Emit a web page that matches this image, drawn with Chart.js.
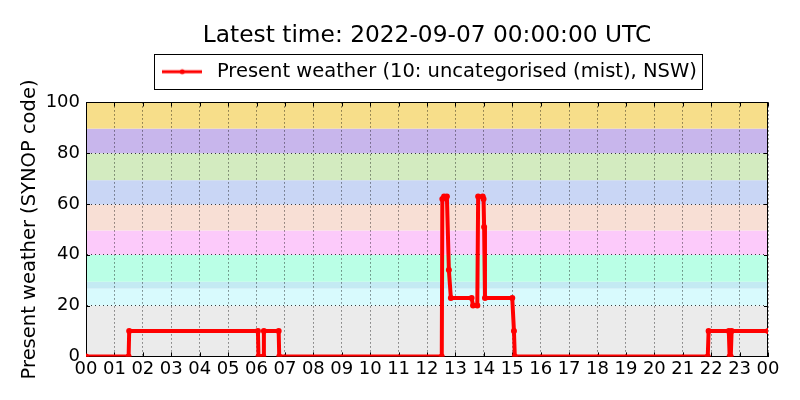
<!DOCTYPE html>
<html>
<head>
<meta charset="utf-8">
<script src="https://cdn.jsdelivr.net/npm/chart.js@4/dist/chart.umd.min.js"></script>
<style>
  html, body { margin: 0; padding: 0; background: #ffffff; }
  #wrap { width: 800px; height: 400px; }
</style>
</head>
<body>
<div id="wrap"><canvas id="c" width="800" height="400"></canvas></div>
<script>
// ---- data ----
const titleText = 'Latest time: 2022-09-07 00:00:00 UTC';
const seriesLabel = 'Present weather (10: uncategorised (mist), NSW)';
const yAxisLabel = 'Present weather (SYNOP code)';
const hours = [0, 1.50, 1.52, 6.05, 6.07, 6.24, 6.26, 6.78, 6.80,
  12.52, 12.54, 12.60, 12.70, 12.77, 12.84, 13.57, 13.62, 13.77, 13.80, 13.96, 13.99, 14.01, 14.04,
  15.00, 15.06, 15.09, 21.88, 21.91, 22.62, 22.65, 22.69, 22.72, 24];
const presentWeather = [0, 0, 10, 10, 0, 0, 10, 10, 0,
  0, 62, 63, 63, 34, 23, 23, 20, 20, 63, 63, 62, 51, 23,
  23, 10, 0, 0, 10, 10, 0, 0, 10, 10];
const xTickHours = [0,1,2,3,4,5,6,7,8,9,10,11,12,13,14,15,16,17,18,19,20,21,22,23,24];
const yTicks = [0, 20, 40, 60, 80, 100];
// background bands (SYNOP code groups)
const bandLow  = [0,    20,   26.7, 29.4, 40,   49.6, 59.8, 69.4, 80,   89.7];
const bandHigh = [20,   26.7, 29.4, 40,   49.6, 59.8, 69.4, 80,   89.7, 100];
const bandColor = ['#ebebeb', '#d8fafd', '#c4eaf3', '#baffe6', '#fccafa', '#f8dfd5', '#c9d6f5', '#d3ebc0', '#c8b6ec', '#f7de8a'];

const FONT = 'DejaVu Sans';

// legend symbol: line with a dot
const sym = document.createElement('canvas');
sym.width = 40; sym.height = 10;
(function(){
  const g = sym.getContext('2d');
  g.strokeStyle = '#ff0000'; g.lineWidth = 3;
  g.beginPath(); g.moveTo(0, 5); g.lineTo(40, 5); g.stroke();
  g.fillStyle = '#ff0000'; g.beginPath(); g.arc(20, 5, 2.5, 0, Math.PI * 2); g.fill();
})();

const bandsPlugin = {
  id: 'bands',
  afterLayout(chart) {
    // centre title and legend over the plot area (as in the original figure)
    const ca = chart.chartArea;
    const mid = (ca.left + ca.right) / 2;
    [chart.titleBlock, chart.legend].forEach(b => {
      if (!b) return;
      const dx = mid - (b.left + b.right) / 2;
      b.left += dx; b.right += dx;
    });
    if (chart.legend) { chart.legend.top -= 11; chart.legend.bottom -= 11; }
  },
  beforeDraw(chart) {
    const {ctx, chartArea, scales} = chart;
    ctx.save();
    for (let i = 0; i < bandLow.length; i++) {
      const yTop = scales.y.getPixelForValue(bandHigh[i]);
      const yBot = scales.y.getPixelForValue(bandLow[i]);
      ctx.fillStyle = bandColor[i];
      ctx.fillRect(chartArea.left, yTop, chartArea.right - chartArea.left, yBot - yTop);
    }
    ctx.restore();
  },
  beforeDatasetsDraw(chart) {
    const {ctx, chartArea} = chart;
    ctx.save();
    ctx.strokeStyle = '#000000';
    ctx.lineWidth = 1;
    ctx.strokeRect(Math.round(chartArea.left) + 0.5, Math.round(chartArea.top) + 0.5,
      Math.round(chartArea.right - chartArea.left) - 1, Math.round(chartArea.bottom - chartArea.top));
    // inward tick marks
    const xs = chart.scales.x, ys = chart.scales.y;
    ctx.beginPath();
    xTickHours.forEach(h => {
      const px = Math.round(xs.getPixelForValue(h)) + 0.5;
      ctx.moveTo(px, chartArea.bottom); ctx.lineTo(px, chartArea.bottom - 4);
      ctx.moveTo(px, chartArea.top); ctx.lineTo(px, chartArea.top + 4);
    });
    yTicks.forEach(v => {
      const py = Math.round(ys.getPixelForValue(v)) + 0.5;
      ctx.moveTo(chartArea.left, py); ctx.lineTo(chartArea.left + 4, py);
      ctx.moveTo(chartArea.right, py); ctx.lineTo(chartArea.right - 4, py);
    });
    ctx.stroke();
    ctx.restore();
  },
  afterDraw(chart) {
    const {ctx} = chart;
    // legend frame
    const lg = chart.legend;
    if (lg && lg.legendHitBoxes && lg.legendHitBoxes.length) {
      const hb = lg.legendHitBoxes[0];
      const cy = hb.top + hb.height / 2;
      const x0 = hb.left - 3, x1 = hb.left + hb.width + 5;
      const y0 = cy - 17.5, y1 = cy + 17.5;
      ctx.save();
      ctx.strokeStyle = '#000000';
      ctx.lineWidth = 1;
      ctx.strokeRect(Math.round(x0) + 0.5, Math.round(y0) + 0.5, Math.round(x1 - x0), Math.round(y1 - y0));
      ctx.restore();
    }
  }
};

const chart = new Chart(document.getElementById('c'), {
  type: 'line',
  data: {
    datasets: [{
      label: seriesLabel,
      data: hours.map((h, i) => ({x: h, y: presentWeather[i]})),
      borderColor: '#ff0000',
      backgroundColor: '#ff0000',
      borderWidth: 4,
      pointStyle: 'circle',
      pointRadius: 3,
      pointBorderWidth: 0,
      pointBackgroundColor: '#ff0000',
      tension: 0,
      fill: false
    }]
  },
  options: {
    responsive: false,
    animation: false,
    devicePixelRatio: 1,
    layout: { padding: { top: 0, right: 32, bottom: 18, left: 0 } },
    plugins: {
      title: {
        display: true,
        text: titleText,
        color: '#000000',
        font: { family: FONT, size: 23.3, weight: 'normal' },
        padding: { top: 22, bottom: 11 }
      },
      legend: {
        display: true,
        labels: {
          color: '#000000',
          font: { family: FONT, size: 19.5 },
          usePointStyle: true,
          pointStyleWidth: 50,
          boxHeight: 10,
          padding: 12,
          generateLabels(ch) {
            return [{ text: seriesLabel, pointStyle: sym, fillStyle: '#ff0000', strokeStyle: '#ff0000', lineWidth: 0, datasetIndex: 0, hidden: false, fontColor: '#000000' }];
          }
        }
      },
      tooltip: { enabled: false }
    },
    scales: {
      x: {
        type: 'linear',
        min: 0, max: 24,
        afterBuildTicks(scale) { scale.ticks = xTickHours.map(v => ({value: v})); },
        ticks: {
          autoSkip: false, maxRotation: 0, minRotation: 0,
          color: '#000000',
          font: { family: FONT, size: 18 },
          padding: 2,
          callback: v => String(v % 24).padStart(2, '0')
        },
        grid: { color: 'rgba(0,0,0,0.75)', lineWidth: 1, drawTicks: false },
        border: { display: true, color: '#000000', width: 1, dash: [1, 3] }
      },
      y: {
        min: 0, max: 100,
        afterBuildTicks(scale) { scale.ticks = yTicks.map(v => ({value: v})); },
        afterFit(scale) { scale.width = 86; },
        ticks: {
          color: '#000000',
          font: { family: FONT, size: 18 },
          padding: 6
        },
        grid: { color: 'rgba(0,0,0,0.75)', lineWidth: 1, drawTicks: false },
        border: { display: true, color: '#000000', width: 1, dash: [1, 3] },
        title: {
          display: true,
          text: yAxisLabel,
          color: '#000000',
          font: { family: FONT, size: 19.5 },
          padding: { top: 18, bottom: 0 }
        }
      }
    }
  },
  plugins: [bandsPlugin]
});
</script>
</body>
</html>
